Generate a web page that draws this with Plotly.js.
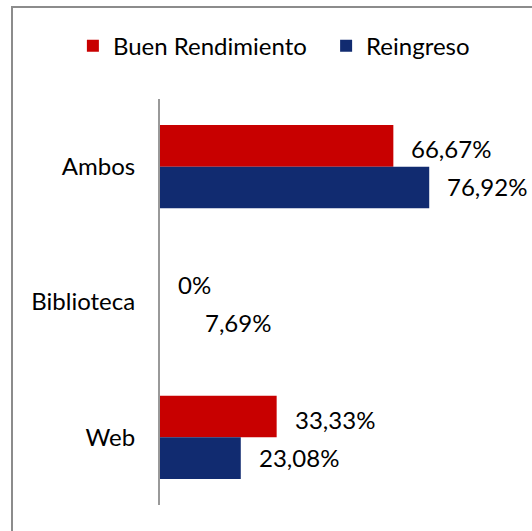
<!DOCTYPE html>
<html>
<head>
<meta charset="utf-8">
<script src="https://cdn.plot.ly/plotly-3.0.1.min.js"></script>
<style>
  html, body { margin: 0; padding: 0; background: #fff; }
  #wrap { position: relative; width: 532px; height: 531px; overflow: hidden; }
  #chart { width: 532px; height: 531px; }
  #frame { position: absolute; left: 11px; top: 6px; width: 600px; height: 600px;
           border-left: 2px solid #8c8c8c; border-top: 2px solid #8c8c8c; pointer-events: none; box-sizing: border-box; }
</style>
</head>
<body>
<div id="wrap">
  <div id="chart"></div>
  <div id="frame"></div>
</div>
<script>
const categories = ["Ambos", "Biblioteca", "Web"];
const seriesNames = ["Buen Rendimiento", "Reingreso"];
const buenRendimiento = [66.67, 0, 33.33];
const reingreso = [76.92, 7.69, 23.08];

function fmt(v) {
  if (v === 0) return "0%";
  return v.toFixed(2).replace(".", ",") + "%";
}

const FONT = "Lato, sans-serif";
const FS = 24;

const traces = [
  {
    type: "bar", orientation: "h", name: seriesNames[0],
    y: categories, x: buenRendimiento,
    marker: { color: "#C80000", line: { width: 0 } },
    hoverinfo: "none", legend: "legend"
  },
  {
    type: "bar", orientation: "h", name: seriesNames[1],
    y: categories, x: reingreso,
    marker: {
      color: reingreso.map((v, i) => categories[i] === "Biblioteca" ? "rgba(0,0,0,0)" : "#112B70"),
      line: { width: 0 }
    },
    hoverinfo: "none", legend: "legend2"
  }
];

const annotations = [];
[buenRendimiento, reingreso].forEach((vals, s) => {
  vals.forEach((v, i) => {
    annotations.push({
      x: v, y: categories[i], xref: "x", yref: "y",
      text: fmt(v), showarrow: false,
      xanchor: "left", yanchor: "middle",
      xshift: 16, yshift: s === 0 ? 18 : -20,
      font: { family: FONT, size: FS, color: "#000" }
    });
  });
});

const legendBase = {
  orientation: "h", xref: "container", yref: "container",
  xanchor: "left", y: 0.913, yanchor: "middle",
  font: { family: FONT, size: FS, color: "#000" },
  itemwidth: 30, bgcolor: "rgba(0,0,0,0)"
};

const layout = {
  width: 532, height: 531,
  margin: { l: 160, r: 22, t: 99, b: 26 },
  paper_bgcolor: "#fff", plot_bgcolor: "#fff",
  font: { family: FONT, size: FS, color: "#000" },
  barmode: "group",
  bargap: 0.385,
  bargroupgap: 0,
  showlegend: true,
  legend: Object.assign({}, legendBase, { x: 0.137 }),
  legend2: Object.assign({}, legendBase, { x: 0.613 }),
  annotations: annotations,
  xaxis: { range: [0, 100], visible: false, showgrid: false, zeroline: false, fixedrange: true },
  yaxis: {
    type: "category", categoryorder: "array", categoryarray: categories,
    autorange: "reversed",
    showline: true, linecolor: "#999", linewidth: 2,
    showgrid: false, zeroline: false,
    ticks: "", ticklen: 0, ticklabelstandoff: 18,
    tickfont: { family: FONT, size: FS, color: "#000" }
  }
};

Plotly.newPlot("chart", traces, layout, { displayModeBar: false, staticPlot: true });
</script>
</body>
</html>
